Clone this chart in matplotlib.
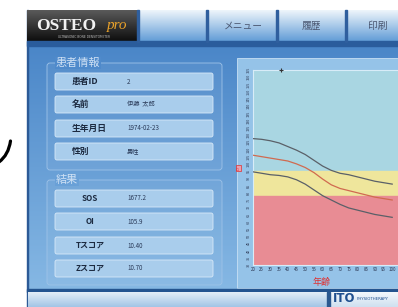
import numpy as np
import matplotlib
matplotlib.use("Agg")
import matplotlib.pyplot as plt
from matplotlib.patches import Rectangle, FancyBboxPatch, PathPatch
from matplotlib.path import Path
from matplotlib.colors import LinearSegmentedColormap

plt.rcParams['font.family'] = ['Noto Sans CJK JP', 'DejaVu Sans']

# ---------------- data ----------------
ages = [20, 25, 30, 35, 40, 45, 50, 55, 60, 65, 70, 75, 80, 85, 90, 95, 100]
upper_curve = [117.5, 117, 116, 114.5, 112, 109.5, 106.5, 102.5, 98.5, 95.5, 93.5, 92.5, 91, 89.5, 88, 87, 86]
mean_curve = [106, 105, 104, 103, 102, 100, 97.5, 94, 89.5, 85.5, 83, 81.5, 80, 78.5, 77, 76, 75]
lower_curve = [94.5, 93.5, 92.5, 92, 91, 89, 86, 82, 78, 75, 72, 69.5, 68, 66.5, 65, 64, 63]
band_normal_low = 95
band_caution_low = 77.5
y_min, y_max = 30, 165
y_ticks = list(range(30, 166, 5))
x_ticks = ages
patient_age = 36
patient_value = 97

menu_labels = ["メニュー", "履歴", "印刷"]
info_labels = ["患者ID", "名前", "生年月日", "性別"]
info_values = ["2", "伊藤  太郎", "1974-02-23", "男性"]
result_labels = ["SOS", "OI", "Tスコア", "Zスコア"]
result_values = ["1677.2", "105.9", "10.40", "10.70"]

# ---------------- figure ----------------
W, H = 398, 307
fig = plt.figure(figsize=(W / 100, H / 100), dpi=100)
fig.patch.set_facecolor("white")
ui = fig.add_axes([0, 0, 1, 1])
ui.set_xlim(0, W)
ui.set_ylim(H, 0)
ui.axis("off")


def grad(x0, y0, x1, y1, ctop, cbot, z=1):
    cmap = LinearSegmentedColormap.from_list("g", [ctop, cbot])
    arr = np.linspace(0, 1, 64).reshape(-1, 1)
    ui.imshow(arr, cmap=cmap, extent=(x0, x1, y1, y0), aspect="auto",
              zorder=z, interpolation="bilinear")


# app body
grad(27, 42, W, 292, "#4a86c8", "#86b8e4", z=1)
ui.add_patch(Rectangle((27, 10), 1.2, 297, color="#2c5a96", zorder=2))
# header
grad(27, 10, 138, 42, "#5a5a5a", "#0c0c0c", z=2)
grad(138, 10, W, 42, "#eef5fb", "#5f9bd6", z=2)
ui.add_patch(Rectangle((27, 41), W - 27, 5, color="#2a5c9c", zorder=3))
for xd in [138, 207, 277, 346]:
    ui.add_patch(Rectangle((xd - 1, 10), 2.2, 32, color="#2f5f9e", zorder=3))
ui.text(36, 30, "OSTEO", fontsize=12.5, fontweight="bold", color="#f2f2f2",
        family=["Liberation Serif", "DejaVu Serif"], zorder=4)
ui.text(107, 29, "pro", fontsize=11, style="italic", color="#eaa22a",
        family=["Liberation Serif", "DejaVu Serif"], zorder=4)
ui.text(58, 37.5, "ULTRASONIC BONE DENSITOMETER", fontsize=2.2, color="#bbbbbb",
        family="DejaVu Sans", zorder=4)
for lab, xc in zip(menu_labels, [243, 311, 378]):
    ui.text(xc, 26, lab, fontsize=7, color="#4a5670", ha="center", va="center", zorder=4)

# left decorative stroke
verts = [(10.5, 141), (8.5, 155), (-1, 162)]
ui.add_patch(PathPatch(Path(verts, [Path.MOVETO, Path.CURVE3, Path.CURVE3]),
                       fill=False, lw=2.3, color="black", zorder=2, capstyle="round"))


def group(y0, y1, title, bg):
    ui.add_patch(FancyBboxPatch((47, y0), 175, y1 - y0, boxstyle="round,pad=0,rounding_size=3",
                                fc=(1, 1, 1, 0.05), ec="#9fc3e8", lw=0.6, zorder=3))
    ui.text(56, y0, title, fontsize=8, color="#cfe1f4", va="center", zorder=5,
            bbox=dict(fc=bg, ec="none", pad=0.5))


def row(y0, label, value, centered=False):
    ui.add_patch(FancyBboxPatch((55, y0), 158, 17, boxstyle="round,pad=0,rounding_size=2",
                                fc="#a9cdec", ec="#d8e9f8", lw=0.6, zorder=4))
    if centered:
        ui.text(90, y0 + 8.5, label, fontsize=5.8, fontweight="bold", color="#1c2a40",
                ha="center", va="center", zorder=5)
    else:
        ui.text(72, y0 + 8.5, label, fontsize=6.3, fontweight="bold", color="#1c2a40",
                va="center", zorder=5)
    ui.text(127, y0 + 8.5, value, fontsize=4.5, color="#2a3a58", va="center", zorder=5)


group(63, 170, "患者情報", "#4f8acb")
for yy, l, v in zip([73, 96, 120, 143], info_labels, info_values):
    row(yy, l, v)
group(180, 285, "結果", "#69a0d7")
for yy, l, v in zip([190, 213, 237, 260], result_labels, result_values):
    row(yy, l, v, centered=True)

# chart frame
ui.add_patch(Rectangle((237, 58), W - 237, 230, fc="#95c3e8", ec="#c8e0f4", lw=0.6, zorder=3))

# bottom bar
ui.add_patch(Rectangle((27, 289), W - 27, 3, color="#24548f", zorder=3))
grad(28, 292, 327, H, "#e4eef7", "#a3c5e6", z=3)
ui.add_patch(Rectangle((327, 292), 3, 15, color="#2a5890", zorder=4))
grad(330, 292, W, H, "#f4f8fc", "#cfe0f0", z=3)
ui.text(333, 305.5, "ITO", fontsize=8.5, color="#1f4f8f", fontweight="bold",
        family="DejaVu Sans", va="bottom", zorder=5)
ui.text(357, 300, "PHYSIOTHERAPY", fontsize=2.8, color="#1f4f8f", family="DejaVu Sans", zorder=5)

# ---------------- chart ----------------
left_px, right_px, top_px, bot_px = 253, 406, 70, 265
ax = fig.add_axes([left_px / W, 1 - bot_px / H, (right_px - left_px) / W, (bot_px - top_px) / H],
                  zorder=10)
ax.set_xlim(20, 20 + (right_px - left_px) / 1.74)
ax.set_ylim(y_min, y_max)
ax.axhspan(band_normal_low, y_max, color="#a9d6e2", zorder=0)
ax.axhspan(band_caution_low, band_normal_low, color="#efe69c", zorder=0)
ax.axhspan(y_min, band_caution_low, color="#e88c94", zorder=0)
ax.plot(ages, upper_curve, color="#5a6068", lw=0.9, zorder=3)
ax.plot(ages, mean_curve, color="#d06a50", lw=0.9, zorder=3)
ax.plot(ages, lower_curve, color="#5a6068", lw=0.9, zorder=3)
ax.plot([patient_age], [y_max], marker="+", color="#333333", ms=3.5, mew=0.8,
        clip_on=False, zorder=4)
ax.set_xticks(x_ticks)
ax.set_xticklabels([str(a) for a in x_ticks], fontsize=3.2, color="#2a3550")
ax.set_yticks(y_ticks)
ax.set_yticklabels([str(v) for v in y_ticks], fontsize=2.7, color="#2a3550", rotation=90,
                   va="center")
ax.tick_params(length=0, pad=1.5)
for s in ax.spines.values():
    s.set_color("#d8ecf8")
    s.set_linewidth(0.8)
ax.spines["right"].set_visible(False)
ax.set_xlabel("年齢", fontsize=6.5, color="#e03030", labelpad=2)
ax.xaxis.set_label_coords((322 - left_px) / (right_px - left_px), -0.065)
ax.text(-0.095, patient_value, "ID", transform=ax.get_yaxis_transform(), fontsize=3,
        color="#e03030", ha="center", va="center", rotation=90,
        bbox=dict(fc="#e9a0b0", ec="#e03030", lw=0.5, pad=0.6), clip_on=False)

fig.savefig("out.png", dpi=100, facecolor="white")
